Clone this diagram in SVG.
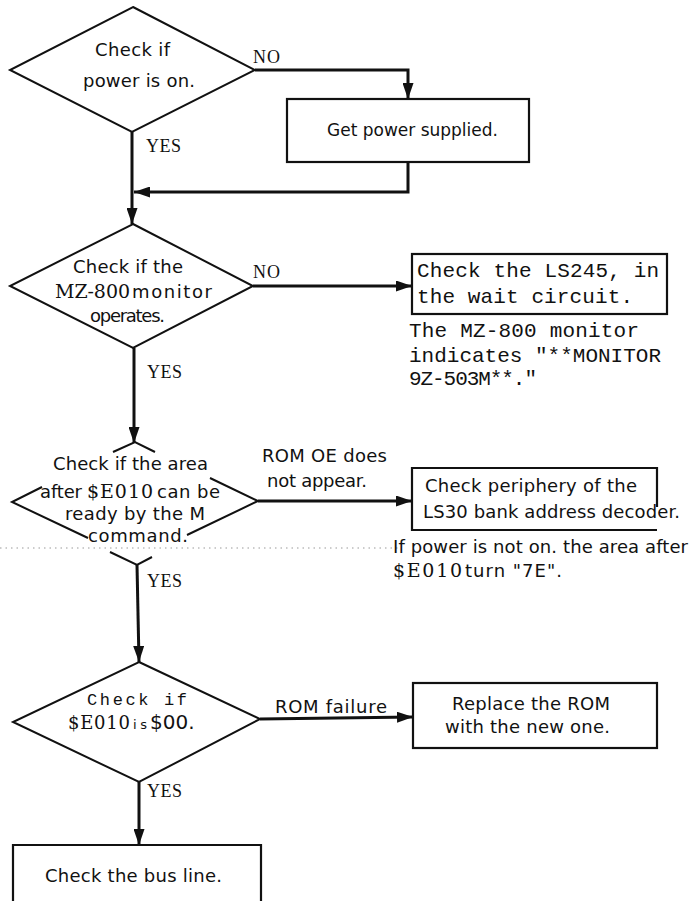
<svg xmlns="http://www.w3.org/2000/svg" width="693" height="901" viewBox="0 0 693 901">
<defs>
<style>
.bg{fill:#ffffff}
.shape{fill:none;stroke:#111;stroke-width:2;stroke-linejoin:miter}
.box{fill:none;stroke:#111;stroke-width:2.2}
.edge{fill:none;stroke:#111;stroke-width:3}
.s{font-family:"DejaVu Sans","Liberation Sans",sans-serif;font-size:18px;fill:#111}
.r{font-family:"Liberation Serif","DejaVu Serif",serif;font-size:18px;fill:#111}
.w{font-family:"DejaVu Serif","Liberation Serif",serif;font-size:19px;fill:#111}
.m{font-family:"Liberation Mono","DejaVu Sans Mono",monospace;font-size:21px;fill:#111}
.dots{fill:none;stroke:#999;stroke-width:1;stroke-dasharray:1.5 4}
</style>
<marker id="ah" viewBox="0 0 16 11" refX="16" refY="5.5" markerWidth="16" markerHeight="11" orient="auto" markerUnits="userSpaceOnUse">
<path d="M0,0 L16,5.5 L0,11 z" fill="#111"/>
</marker>
</defs>
<rect class="bg" x="0" y="0" width="693" height="901"/>

<g id="scan-dots">
<path class="dots" d="M0,548 H400"/>
</g>

<g id="connectors">
<path class="edge" d="M132,132 V224" marker-end="url(#ah)"/>
<path class="edge" d="M255,70 H408 V99" marker-end="url(#ah)"/>
<path class="edge" d="M408,162 V192 H134" marker-end="url(#ah)"/>
<path class="edge" d="M253,286 H412" marker-end="url(#ah)"/>
<path class="edge" d="M134,348 V443" marker-end="url(#ah)"/>
<path class="edge" d="M258,501 H412" marker-end="url(#ah)"/>
<path class="edge" d="M137,565 L139,662" marker-end="url(#ah)"/>
<path class="edge" d="M260,719 L413,717" marker-end="url(#ah)"/>
<path class="edge" d="M139,782 V845" marker-end="url(#ah)"/>
<text class="r" x="253" y="63" textLength="27">NO</text>
<text class="r" x="146" y="152" textLength="35">YES</text>
<text class="r" x="253" y="278" textLength="27">NO</text>
<text class="r" x="147" y="378" textLength="35">YES</text>
<text class="s" x="262" y="462" textLength="125">ROM OE does</text>
<text class="s" x="267" y="487" textLength="100">not appear.</text>
<text class="r" x="147" y="587" textLength="35">YES</text>
<text class="s" x="275" y="713" textLength="112">ROM failure</text>
<text class="r" x="147" y="797" textLength="35">YES</text>
</g>

<g id="d-power">
<polygon class="shape" points="133,7 255,70 132,132 10,70"/>
<text class="s" x="95" y="56" textLength="75">Check if</text>
<text class="s" x="83" y="87" textLength="112">power is on.</text>
</g>

<g id="b-power">
<rect class="box" x="287" y="99" width="242" height="63"/>
<text class="s" x="327" y="136" style="font-size:17px">Get power supplied.</text>
</g>

<g id="d-monitor">
<polygon class="shape" points="133,224 253,286 133,348 10,286"/>
<text class="s" x="73" y="273" textLength="110">Check if the</text>
<text class="w" x="55" y="298" textLength="75">MZ-800</text>
<text class="s" x="132" y="298" textLength="80">monitor</text>
<text class="s" x="90" y="322" textLength="75">operates.</text>
</g>

<g id="b-ls245">
<rect class="box" x="412" y="254" width="255" height="60"/>
<text class="m" x="417" y="277" textLength="242">Check the LS245, in</text>
<text class="m" x="417" y="303" textLength="216">the wait circuit.</text>
</g>

<g id="n-monitor">
<text class="m" x="409" y="337" textLength="230">The MZ-800 monitor</text>
<text class="m" x="409" y="362" textLength="252">indicates "**MONITOR</text>
<text class="m" x="409" y="385" textLength="128">9Z-503M**."</text>
</g>

<g id="d-area">
<path class="shape" d="M113,452 L135,442 L155,452"/>
<path class="shape" d="M42,487 L12,502 L88,538"/>
<path class="shape" d="M210,478 L258,501 L187,535"/>
<path class="shape" d="M110,552 L137,565 L152,557"/>
<text class="s" x="53" y="470" textLength="155">Check if the area</text>
<text class="s" x="40" y="498" textLength="42">after</text>
<text class="w" x="87" y="498" textLength="66">$E010</text>
<text class="s" x="157" y="498" textLength="63">can be</text>
<text class="s" x="65" y="520" textLength="140">ready by the M</text>
<text class="s" x="88" y="542" textLength="100">command.</text>
</g>

<g id="b-ls30">
<path class="box" d="M657,507 V468 H412 V530 H657"/>
<text class="s" x="425" y="492" textLength="212">Check periphery of the</text>
<text class="s" x="423" y="518" textLength="257">LS30 bank address decoder.</text>
</g>

<g id="n-power">
<text class="s" x="393" y="553" textLength="295">If power is not on. the area after</text>
<text class="w" x="393" y="577" textLength="69">$E010</text>
<text class="s" x="465" y="577" textLength="97">turn "7E".</text>
</g>

<g id="d-rom">
<polygon class="shape" points="139,662 260,719 139,782 13,722"/>
<text class="m" x="87" y="705" textLength="100" style="font-size:17px">Check  if</text>
<text class="w" x="68" y="729" textLength="62" style="font-size:18px">$E010</text>
<text class="s" x="133" y="729" textLength="14" style="font-size:13px">is</text>
<text class="s" x="150" y="729" style="font-size:20px">$00.</text>
</g>

<g id="b-replace">
<rect class="box" x="413" y="683" width="244" height="65"/>
<text class="s" x="452" y="710" textLength="158">Replace the ROM</text>
<text class="s" x="445" y="733" textLength="165">with the new one.</text>
</g>

<g id="b-bus">
<path class="box" d="M13,905 V845 H261 V905"/>
<text class="s" x="45" y="882" textLength="177">Check the bus line.</text>
</g>
</svg>
